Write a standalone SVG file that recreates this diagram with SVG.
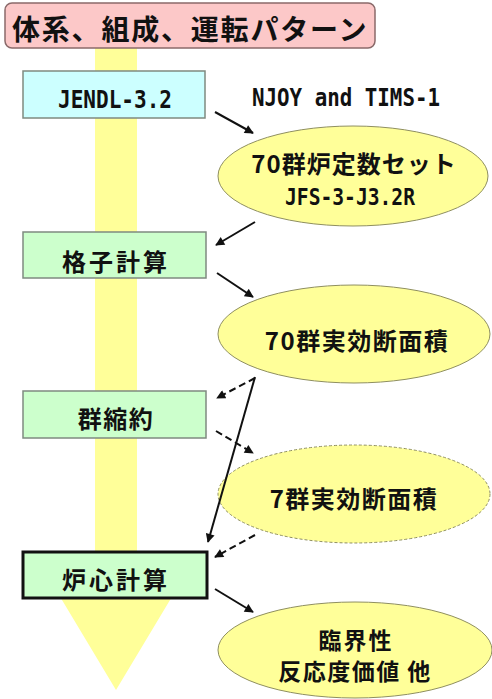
<svg xmlns="http://www.w3.org/2000/svg" width="492" height="699" viewBox="0 0 492 699">
<defs>
<style>
.cjk{font-family:"Noto Sans CJK JP","Noto Sans CJK SC",sans-serif;font-weight:bold;fill:#111;}
.mono{font-family:"DejaVu Sans Mono","Liberation Mono",monospace;font-weight:bold;fill:#111;}
.box{stroke:#7f8a80;stroke-width:1.5;}
.ell{fill:#ffff99;stroke:#8f8f60;stroke-width:1;}
.ln{stroke:#111;stroke-width:2;fill:none;}
.dash{stroke-dasharray:7 4;}
</style>
<marker id="ah" viewBox="0 0 10 10" refX="9" refY="5" markerWidth="10" markerHeight="9" markerUnits="userSpaceOnUse" orient="auto">
<path d="M0,0 L10,5 L0,10 Z" fill="#111"/>
</marker>
</defs>
<rect width="492" height="699" fill="#ffffff"/>
<polygon id="flow-arrow" points="95,46 137,46 137,575 185,575 116,690 47,575 95,575" fill="#ffff99"/>
<g id="title">
<rect x="5" y="3" width="370" height="45" rx="7" fill="#fcc8c8" stroke="#8a6a6a" stroke-width="1.5"/>
<text class="cjk" x="12" y="27.5" font-size="28" letter-spacing="1.8" dominant-baseline="central">体系、組成、運転パターン</text>
</g>
<g id="jendl">
<rect class="box" x="23" y="71" width="182" height="47" fill="#ccffff"/>
<text class="mono" x="58" y="108" font-size="25" textLength="114" lengthAdjust="spacingAndGlyphs">JENDL-3.2</text>
</g>
<g id="njoy-label">
<text class="mono" x="252" y="106" font-size="25" textLength="188" lengthAdjust="spacingAndGlyphs">NJOY and TIMS-1</text>
</g>
<g id="jfs">
<ellipse class="ell" cx="353" cy="176" rx="135" ry="50"/>
<text class="cjk" x="354" y="162.5" font-size="24" letter-spacing="1" text-anchor="middle" dominant-baseline="central">70群炉定数セット</text>
<text class="mono" x="285" y="205" font-size="23" textLength="130" lengthAdjust="spacingAndGlyphs">JFS-3-J3.2R</text>
</g>
<g id="lattice">
<rect class="box" x="23" y="232" width="183" height="46" fill="#ccffcc"/>
<text class="cjk" x="116" y="260" font-size="24" letter-spacing="3" text-anchor="middle" dominant-baseline="central">格子計算</text>
</g>
<g id="xs70">
<ellipse class="ell" cx="354" cy="334" rx="136" ry="49"/>
<text class="cjk" x="357" y="339" font-size="24" letter-spacing="1.5" text-anchor="middle" dominant-baseline="central">70群実効断面積</text>
</g>
<g id="collapse">
<rect class="box" x="23" y="391" width="183" height="47" fill="#ccffcc"/>
<text class="cjk" x="116" y="417.5" font-size="24" letter-spacing="1.5" text-anchor="middle" dominant-baseline="central">群縮約</text>
</g>
<g id="xs7">
<ellipse class="ell" cx="354" cy="494" rx="136" ry="49" stroke-dasharray="3 2"/>
<text class="cjk" x="354" y="497" font-size="24" letter-spacing="1.5" text-anchor="middle" dominant-baseline="central">7群実効断面積</text>
</g>
<g id="core">
<rect x="23" y="552" width="184" height="46" fill="#ccffcc" stroke="#111" stroke-width="3"/>
<text class="cjk" x="116" y="578" font-size="24" letter-spacing="3" text-anchor="middle" dominant-baseline="central">炉心計算</text>
</g>
<g id="results">
<ellipse class="ell" cx="355" cy="650" rx="137" ry="48"/>
<text class="cjk" x="356" y="639" font-size="23" letter-spacing="2" text-anchor="middle" dominant-baseline="central">臨界性</text>
<text class="cjk" x="355" y="670" font-size="23" letter-spacing="1.5" text-anchor="middle" dominant-baseline="central">反応度価値 他</text>
</g>
<g id="connectors">
<line class="ln" x1="215" y1="112" x2="253" y2="133" marker-end="url(#ah)"/>
<line class="ln" x1="255" y1="222" x2="216" y2="245" marker-end="url(#ah)"/>
<line class="ln" x1="217" y1="273" x2="253" y2="297" marker-end="url(#ah)"/>
<line class="ln dash" x1="255" y1="378" x2="217" y2="398" marker-end="url(#ah)"/>
<line class="ln dash" x1="216" y1="431" x2="253" y2="453" marker-end="url(#ah)"/>
<line class="ln" x1="255" y1="377" x2="208" y2="542" marker-end="url(#ah)"/>
<line class="ln dash" x1="255" y1="535" x2="215" y2="557" marker-end="url(#ah)"/>
<line class="ln" x1="215" y1="589" x2="253" y2="612" marker-end="url(#ah)"/>
</g>
</svg>
